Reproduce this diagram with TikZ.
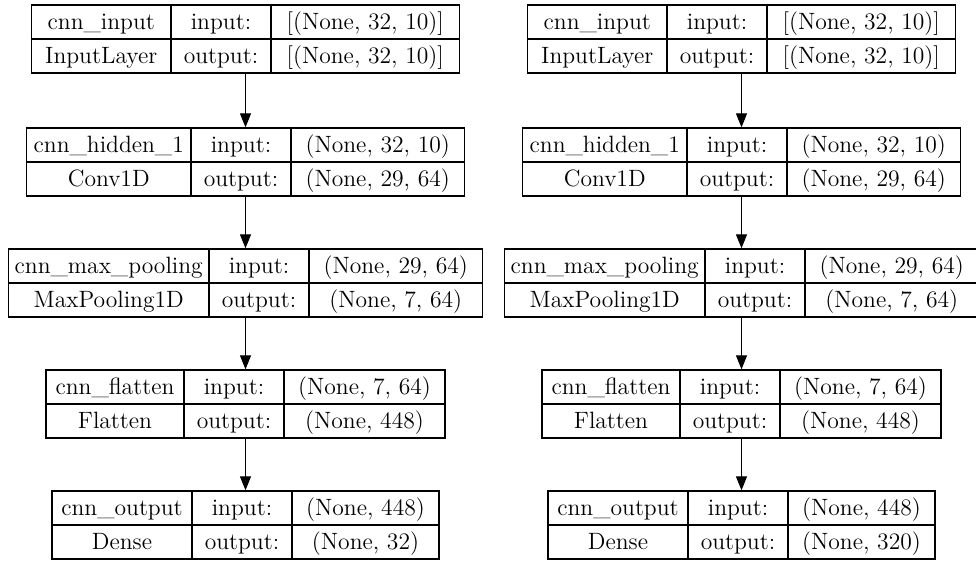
\documentclass[tikz,border=0pt]{standalone}
\usetikzlibrary{arrows.meta,fit}
\tikzset{
  box/.style={draw, line width=0.65pt, inner sep=0pt},
  lbl/.style={inner sep=0pt, anchor=base, font=\fontsize{11.8}{14}\selectfont},
  flow/.style={-{Triangle[length=7pt,width=5.5pt]}, line width=0.6pt}
}
\begin{document}
\begin{tikzpicture}[x=0.5pt,y=-0.5pt]
\useasboundingbox (0,0) rectangle (976,561);
% two copies of the same model, only the last output differs
\foreach \dx/\s/\last in {0/a/{(None, 32)},496/b/{(None, 320)}}{
\begin{scope}[xshift=\dx*0.5pt]
\foreach \n/\xa/\xb/\xc/\xd/\yt/\nm/\cls/\shi/\sho in {
  1/31.5/171/271/459.5/5/{cnn\_input}/{InputLayer}/{[(None, 32, 10)]}/{[(None, 32, 10)]},
  2/26.5/191/291/464.5/128/{cnn\_hidden\_1}/{Conv1D}/{(None, 32, 10)}/{(None, 29, 64)},
  3/8.5/209/309/482.5/249/{cnn\_max\_pooling}/{MaxPooling1D}/{(None, 29, 64)}/{(None, 7, 64)},
  4/46/184/284/445/370/{cnn\_flatten}/{Flatten}/{(None, 7, 64)}/{(None, 448)},
  5/52/192/292/439/491/{cnn\_output}/{Dense}/{(None, 448)}/{\last}}{
  \node[box, fit={(\xa,\yt) (\xd,\yt+68)}] (\s\n) {};
  \draw[box] (\s\n.west) -- (\s\n.east);
  \draw[box] (\xb,\yt) -- (\xb,\yt+68);
  \draw[box] (\xc,\yt) -- (\xc,\yt+68);
  \node[lbl] (\s\n nm) at ({(\xa+\xb)/2},\yt+25) {\nm};
  \node[lbl] (\s\n cl) at ({(\xa+\xb)/2},\yt+59) {\cls};
  \node[lbl] (\s\n i) at ({(\xb+\xc)/2},\yt+25) {input:};
  \node[lbl] (\s\n o) at ({(\xb+\xc)/2},\yt+59) {output:};
  \node[lbl] (\s\n si) at ({(\xc+\xd)/2},\yt+25) {\shi};
  \node[lbl] (\s\n so) at ({(\xc+\xd)/2},\yt+59) {\sho};
}
\foreach \i [evaluate=\i as \j using int(\i+1)] in {1,...,4}
  \draw[flow] (\s\i) -- (\s\j);
\end{scope}
}
\end{tikzpicture}
\end{document}
